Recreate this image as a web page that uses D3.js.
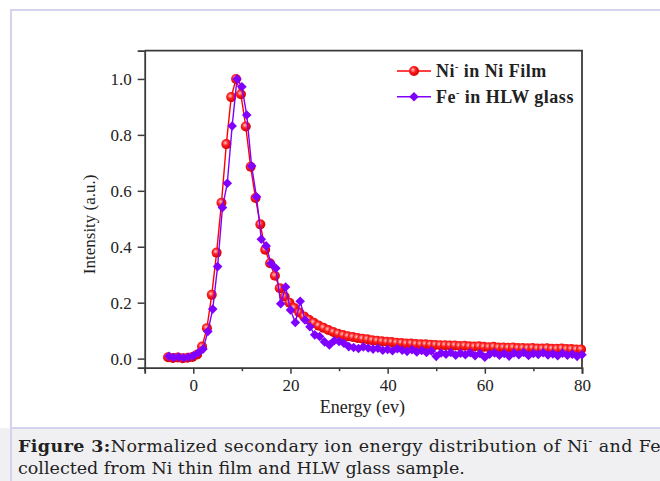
<!DOCTYPE html>
<html>
<head>
<meta charset="utf-8">
<script src="https://cdn.jsdelivr.net/npm/d3@7/dist/d3.min.js"></script>
<style>
  html, body { margin: 0; padding: 0; background: #fff; }
  svg { display: block; }
</style>
</head>
<body>
<div id="chart"></div>
<script>
// energies (eV) and normalized intensities
const niEnergy = [-5.2, -4.2, -3.2, -2.2, -1.2, -0.2, 0.8, 1.8, 2.8, 3.8, 4.8, 5.8, 6.8, 7.8, 8.8, 9.8,
  10.8, 11.8, 12.8, 13.8, 14.8, 15.8, 16.8, 17.8, 18.8, 19.8, 20.8, 21.8, 22.8, 23.8, 24.8, 25.8,
  26.8, 27.8, 28.8, 29.8, 30.8, 31.8, 32.8, 33.8, 34.8, 35.8, 36.8, 37.8, 38.8, 39.8, 40.8, 41.8,
  42.8, 43.8, 44.8, 45.8, 46.8, 47.8, 48.8, 49.8, 50.8, 51.8, 52.8, 53.8, 54.8, 55.8, 56.8, 57.8,
  58.8, 59.8, 60.8, 61.8, 62.8, 63.8, 64.8, 65.8, 66.8, 67.8, 68.8, 69.8, 70.8, 71.8, 72.8, 73.8,
  74.8, 75.8, 76.8, 77.8, 78.8, 79.8];
const niIntensity = [0.005, 0.002, 0.004, 0.001, 0.003, 0.006, 0.015, 0.043, 0.109, 0.228, 0.379, 0.557, 0.767, 0.935, 1.0, 0.945,
  0.83, 0.686, 0.574, 0.48, 0.389, 0.341, 0.296, 0.252, 0.222, 0.2, 0.181, 0.165, 0.151, 0.139, 0.128, 0.118,
  0.11, 0.102, 0.095, 0.089, 0.084, 0.08, 0.077, 0.074, 0.071, 0.069, 0.066, 0.064, 0.062, 0.06, 0.059, 0.057,
  0.056, 0.054, 0.054, 0.052, 0.051, 0.051, 0.05, 0.049, 0.048, 0.048, 0.047, 0.047, 0.045, 0.046, 0.044, 0.043,
  0.044, 0.042, 0.041, 0.042, 0.04, 0.04, 0.039, 0.04, 0.038, 0.038, 0.037, 0.038, 0.036, 0.036, 0.037, 0.035,
  0.035, 0.036, 0.034, 0.034, 0.033, 0.033];

const feEnergy = [-5, -4, -3, -2, -1, 0, 1, 2, 3, 4, 5, 6, 7, 8, 9, 10,
  11, 12, 13, 14, 15, 16, 17, 18, 19, 20, 21, 22, 23, 24, 25, 26,
  27, 28, 29, 30, 31, 32, 33, 34, 35, 36, 37, 38, 39, 40, 41, 42,
  43, 44, 45, 46, 47, 48, 49, 50, 51, 52, 53, 54, 55, 56, 57, 58,
  59, 60, 61, 62, 63, 64, 65, 66, 67, 68, 69, 70, 71, 72, 73, 74,
  75, 76, 77, 78, 79, 80];
const feIntensity = [0.008, 0.004, 0.006, 0.003, 0.005, 0.01, 0.02, 0.034, 0.097, 0.177, 0.329, 0.54, 0.627, 0.832, 1.0, 0.972,
  0.871, 0.689, 0.579, 0.427, 0.403, 0.34, 0.323, 0.196, 0.256, 0.174, 0.129, 0.205, 0.138, 0.114, 0.085, 0.079,
  0.06, 0.049, 0.064, 0.061, 0.055, 0.043, 0.04, 0.036, 0.042, 0.038, 0.034, 0.037, 0.03, 0.033, 0.028, 0.035,
  0.03, 0.026, 0.032, 0.024, 0.029, 0.022, 0.027, 0.008, 0.02, 0.016, 0.022, 0.012, 0.019, 0.014, 0.021, 0.01,
  0.018, 0.005, 0.016, 0.02, 0.012, 0.018, 0.009, 0.02, 0.014, 0.022, 0.011, 0.018, 0.015, 0.021, 0.013, 0.017,
  0.01, 0.019, 0.012, 0.016, 0.008, 0.014];

const xTicks = [0, 20, 40, 60, 80];
const xMinorTicks = [-10, 10, 30, 50, 70];
const yTicks = [0.0, 0.2, 0.4, 0.6, 0.8, 1.0];

const width = 660, height = 481;
const margin = { top: 50.7, right: 78, bottom: 113.3, left: 144.7 };
const innerWidth = width - margin.left - margin.right;
const innerHeight = height - margin.top - margin.bottom;

const redColor = "#ff0000";
const purpleColor = "#8000ff";
const axisColor = "#3a3a3a";
const serif = "'Liberation Serif', 'Times New Roman', serif";

const svg = d3.select("#chart").append("svg")
    .attr("width", width)
    .attr("height", height);

// sphere look for the circle markers
const defs = svg.append("defs");
const grad = defs.append("radialGradient")
    .attr("id", "ball")
    .attr("cx", "40%").attr("cy", "38%").attr("r", "60%");
grad.append("stop").attr("offset", "0%").attr("stop-color", "#ffc8c8");
grad.append("stop").attr("offset", "45%").attr("stop-color", "#ff2020");
grad.append("stop").attr("offset", "100%").attr("stop-color", "#d80000");

// page frame and caption strip
svg.append("rect")
    .attr("x", 0).attr("y", 428).attr("width", width).attr("height", height - 428)
    .attr("fill", "#f0f0f3");
svg.append("path")
    .attr("d", `M11,${height} V10 H${width}`)
    .attr("fill", "none").attr("stroke", "#d3d3ee").attr("stroke-width", 2);
svg.append("line")
    .attr("x1", 11).attr("x2", width).attr("y1", 428).attr("y2", 428)
    .attr("stroke", "#d3d3ee").attr("stroke-width", 2);

const g = svg.append("g")
    .attr("transform", `translate(${margin.left}, ${margin.top})`);

const x = d3.scaleLinear().domain([-10, 80]).range([0, innerWidth]);
const y = d3.scaleLinear().domain([-0.0325, 1.101]).range([innerHeight, 0]);

// axes
g.append("g")
    .attr("transform", `translate(0, ${innerHeight})`)
    .call(d3.axisBottom(x).tickValues(xTicks).tickSize(6).tickPadding(5).tickFormat(d3.format("d")));
g.append("g")
    .attr("transform", `translate(0, ${innerHeight})`)
    .call(d3.axisBottom(x).tickValues(xMinorTicks).tickSize(3.5).tickFormat(""))
    .call(a => a.select(".domain").remove());
g.append("g")
    .call(d3.axisLeft(y).tickValues(yTicks).tickSize(7).tickPadding(6).tickFormat(d3.format(".1f")));

g.selectAll(".tick line").attr("stroke", axisColor).attr("stroke-width", 1.5);
g.selectAll(".domain").attr("stroke", axisColor).attr("stroke-width", 1.8);
g.selectAll(".tick text")
    .attr("fill", "#222")
    .style("font-family", serif)
    .style("font-size", "17px");

// top and right frame lines
g.append("path")
    .attr("d", `M0,0 H${innerWidth} V${innerHeight}`)
    .attr("fill", "none").attr("stroke", axisColor).attr("stroke-width", 1.8);

// axis titles
svg.append("text")
    .attr("x", margin.left + x(35) - 1)
    .attr("y", 413)
    .attr("text-anchor", "middle")
    .attr("fill", "#222")
    .style("font-family", serif)
    .style("font-size", "18px")
    .text("Energy (ev)");
svg.append("text")
    .attr("transform", `translate(95, ${margin.top + y(0.48)}) rotate(-90)`)
    .attr("text-anchor", "middle")
    .attr("fill", "#222")
    .style("font-family", serif)
    .style("font-size", "17px")
    .text("Intensity (a.u.)");

// series
const niData = niEnergy.map((e, i) => ({ e, v: niIntensity[i] }));
const feData = feEnergy.map((e, i) => ({ e, v: feIntensity[i] }));

const line = d3.line().x(d => x(d.e)).y(d => y(d.v));
const diamond = d3.symbol().type(d3.symbolSquare).size(46);

g.append("path").datum(niData)
    .attr("d", line).attr("fill", "none")
    .attr("stroke", redColor).attr("stroke-width", 1.4);
g.selectAll("circle.ni").data(niData).join("circle")
    .attr("class", "ni")
    .attr("cx", d => x(d.e)).attr("cy", d => y(d.v))
    .attr("r", 5)
    .attr("fill", "url(#ball)");

g.append("path").datum(feData)
    .attr("d", line).attr("fill", "none")
    .attr("stroke", purpleColor).attr("stroke-width", 1.4);
g.selectAll("path.fe").data(feData).join("path")
    .attr("class", "fe")
    .attr("d", diamond)
    .attr("transform", d => `translate(${x(d.e)}, ${y(d.v)}) rotate(45)`)
    .attr("fill", purpleColor);

// legend
const legend = svg.append("g").attr("transform", "translate(397, 71)");
const legendItems = [
  { name: "Ni", rest: " in Ni Film", color: redColor, kind: "circle" },
  { name: "Fe", rest: " in HLW glass", color: purpleColor, kind: "diamond" }
];
legendItems.forEach((item, i) => {
  const row = legend.append("g").attr("transform", `translate(0, ${i * 25.7})`);
  row.append("line")
      .attr("x1", 0).attr("x2", 34).attr("y1", 0).attr("y2", 0)
      .attr("stroke", item.color).attr("stroke-width", 1.4);
  if (item.kind === "circle") {
    row.append("circle").attr("cx", 17).attr("cy", 0).attr("r", 5).attr("fill", "url(#ball)");
  } else {
    row.append("path").attr("d", diamond)
        .attr("transform", "translate(17, 0) rotate(45)")
        .attr("fill", item.color);
  }
  const t = row.append("text")
      .attr("x", 39).attr("y", 6)
      .attr("fill", "#222")
      .style("font-family", serif)
      .style("font-size", "18px")
      .style("font-weight", "bold")
      .style("letter-spacing", "0.5px");
  t.append("tspan").text(item.name);
  t.append("tspan").attr("dy", -7).style("font-size", "10px").text("-");
  t.append("tspan").attr("dy", 7).text(item.rest);
});

// caption
const capFont = "'DejaVu Serif', 'Liberation Serif', serif";
const cap1 = svg.append("text")
    .attr("x", 18).attr("y", 452)
    .attr("fill", "#222")
    .style("font-family", capFont)
    .style("font-size", "17.5px")
    .style("letter-spacing", "0.4px");
cap1.append("tspan").style("font-weight", "bold").text("Figure 3:");
cap1.append("tspan").text("Normalized secondary ion energy distribution of Ni");
cap1.append("tspan").attr("dy", -7).style("font-size", "11px").text("-");
cap1.append("tspan").attr("dy", 7).text(" and Fe");

svg.append("text")
    .attr("x", 18).attr("y", 474)
    .attr("fill", "#222")
    .style("font-family", capFont)
    .style("font-size", "17.5px")
    .text("collected from Ni thin film and HLW glass sample.");
</script>
</body>
</html>
